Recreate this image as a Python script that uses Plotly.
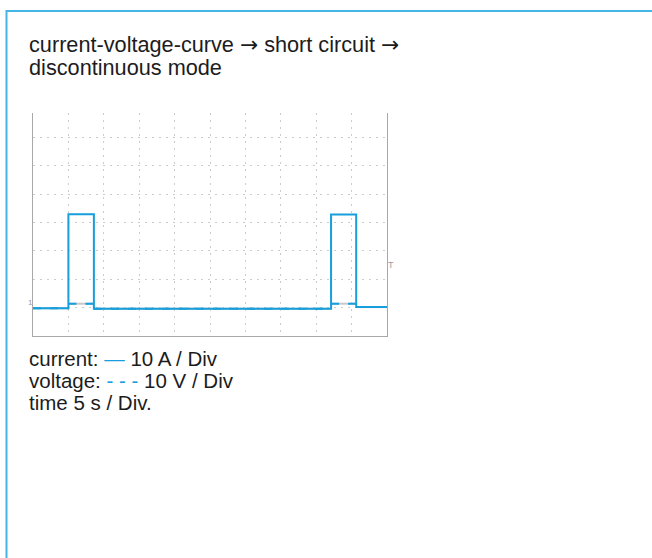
import plotly.graph_objects as go

# ---- data (y in screen divisions, x in seconds, 5 s / div) ----
current_t = [0, 5.0, 5.0, 8.6, 8.6, 42.1, 42.1, 45.65, 45.65, 50]
current_div = [0.98, 0.98, 4.30, 4.30, 0.96, 0.96, 4.29, 4.29, 1.02, 1.02]

voltage_t = [0, 5.0, 5.0, 8.6, 8.6, 42.1, 42.1, 45.65, 45.65, 50]
voltage_div = [0.98, 0.98, 1.14, 1.14, 0.96, 0.96, 1.14, 1.14, 1.02, 1.02]

title_lines = ["current-voltage-curve \u2192 short circuit \u2192", "discontinuous mode"]
legend_current = "10 A / Div"
legend_voltage = "10 V / Div"
legend_time = "time 5 s / Div."

# ---- styles ----
W, H = 652, 558
L, R, T, B = 33, 265, 113, 222
PW, PH = W - L - R, H - T - B
BLUE = "#169fdc"
BORDER = "#46b5e6"
TXT = "#1c1c1c"
FONT = "Liberation Sans, Arial, Helvetica, sans-serif"
FS_TITLE = 21.7
FS_CAP = 20.5


def px_x(px):
    return (px - L) / PW


def px_y(py):
    return (H - B - py) / PH


# split voltage into horizontal segments so each dash pattern starts at segment start
seg_t, seg_v = [], []
for i in range(len(voltage_t) - 1):
    if voltage_div[i] == voltage_div[i + 1]:
        seg_t += [voltage_t[i], voltage_t[i + 1], None]
        seg_v += [voltage_div[i], voltage_div[i + 1], None]

fig = go.Figure()
fig.add_trace(go.Scatter(x=seg_t, y=seg_v, mode="lines",
                         line=dict(color="#c9c9c9", width=2), hoverinfo="skip",
                         showlegend=False))
fig.add_trace(go.Scatter(x=current_t, y=current_div, mode="lines",
                         line=dict(color=BLUE, width=2), name="current",
                         showlegend=False))
fig.add_trace(go.Scatter(x=seg_t, y=seg_v, mode="lines",
                         line=dict(color=BLUE, width=2, dash="8px,9px"), name="voltage",
                         showlegend=False))

grid = dict(showgrid=True, gridcolor="#cccccc", gridwidth=1, griddash="2px,5px",
            zeroline=False, showticklabels=False, ticks="")
fig.update_xaxes(range=[0, 50], dtick=5, tick0=0, showline=True, linecolor="#a8a8a8",
                 linewidth=1, mirror=False, **grid)
fig.update_yaxes(range=[0, 7.87], dtick=1, tick0=0, showline=True, linecolor="#a8a8a8",
                 linewidth=1, mirror=True, **grid)

ARROW = '<span style="font-family:DejaVu Sans">\u2192</span>'
anns = []
# title
title_html = [title_lines[0].replace("\u2192", ARROW), title_lines[1]]
for k, line in enumerate(title_html):
    anns.append(dict(text=line, xref="paper", yref="paper", x=px_x(27), y=px_y(44 + 23 * k),
                     xanchor="left", yanchor="middle", showarrow=False,
                     font=dict(family=FONT, size=FS_TITLE, color=TXT)))
# legend / caption lines
caption = [
    f'current: <span style="color:{BLUE}">\u2014</span> {legend_current}',
    f'voltage: <span style="color:{BLUE}">- - -</span> {legend_voltage}',
    legend_time,
]
for k, line in enumerate(caption):
    anns.append(dict(text=line, xref="paper", yref="paper", x=px_x(27), y=px_y(358 + 22 * k),
                     xanchor="left", yanchor="middle", showarrow=False,
                     font=dict(family=FONT, size=FS_CAP, color=TXT)))
# scope markers
anns.append(dict(text="1", xref="paper", yref="y", x=px_x(30), y=1.2, xanchor="center",
                 yanchor="middle", showarrow=False, font=dict(family=FONT, size=8, color="#9a9a9a")))
anns.append(dict(text="T", xref="paper", yref="y", x=px_x(391), y=2.5, xanchor="center",
                 yanchor="middle", showarrow=False, font=dict(family=FONT, size=9, color="#9a9a9a")))

shapes = [
    # card border (top and left)
    dict(type="line", xref="paper", yref="paper", x0=px_x(6.5), x1=px_x(W + 2),
         y0=px_y(11), y1=px_y(11), line=dict(color=BORDER, width=2)),
    dict(type="line", xref="paper", yref="paper", x0=px_x(6.5), x1=px_x(6.5),
         y0=px_y(10), y1=px_y(H + 2), line=dict(color=BORDER, width=2)),
]

fig.update_layout(width=W, height=H, margin=dict(l=L, r=R, t=T, b=B, pad=0),
                  paper_bgcolor="white", plot_bgcolor="white",
                  annotations=anns, shapes=shapes, showlegend=False)

fig.write_html("out.html", config={"displayModeBar": False},
               post_script="document.body.style.margin='0';document.body.style.overflow='hidden';")
